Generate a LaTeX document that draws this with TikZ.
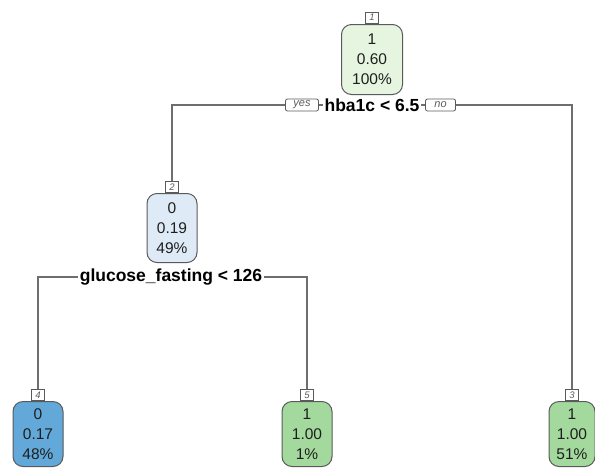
\documentclass[tikz,border=0pt]{standalone}
\usepackage{fontspec}
\setmainfont{Liberation Sans}
\definecolor{rootfill}{HTML}{E5F5E0}
\definecolor{bluelight}{HTML}{DEEBF7}
\definecolor{bluedark}{HTML}{62A8D8}
\definecolor{greenleaf}{HTML}{A3D99D}
\definecolor{edgegray}{HTML}{5A5A5A}
\definecolor{linegray}{HTML}{6E6E6E}
\definecolor{txt}{HTML}{1E1E1E}
\begin{document}
\begin{tikzpicture}[x=1pt,y=-1pt,
  treebox/.style={draw=edgegray,line width=1pt,rounded corners=10pt,
    inner sep=0pt,align=center,text=txt,
    font=\fontsize{15.5}{20}\selectfont},
  numtag/.style={draw=edgegray,line width=0.8pt,fill=white,inner sep=0pt,
    minimum width=13pt,minimum height=11pt,
    font=\fontsize{9.5}{10}\selectfont\itshape,text=edgegray},
  splittext/.style={inner sep=1.5pt,font=\fontsize{17.5}{18}\selectfont\bfseries,text=black},
  yesno/.style={draw=edgegray,line width=0.8pt,rounded corners=2pt,inner sep=0pt,
    minimum width=33pt,minimum height=12pt,
    font=\fontsize{11}{12}\selectfont\itshape,text=edgegray},
  conn/.style={draw=linegray,line width=1.2pt}]
\useasboundingbox (0,0) rectangle (595,467);

% root node
\node[numtag] (t1) at (372,17.5) {1};
\node[treebox,fill=rootfill,minimum width=61pt,minimum height=70pt,anchor=north] (n1) at (372,24) {1\\0.60\\100\%};

% first split
\node[splittext] (s1) at (372,105) {hba1c < 6.5};
\node[yesno,anchor=east] (yes) at ([xshift=-4pt]s1.west) {yes};
\node[yesno,anchor=west,minimum width=30pt] (no) at ([xshift=4pt]s1.east) {no};

% node 2
\node[numtag,anchor=south] (t2) at (172,193) {2};
\node[treebox,fill=bluelight,minimum width=50pt,minimum height=69pt,anchor=north] (n2) at (172,193) {0\\0.19\\49\%};

% second split
\node[splittext] (s2) at (171,277) {glucose\_fasting < 126};

% leaves
\node[numtag,anchor=south] (t4) at (38,401) {4};
\node[treebox,fill=bluedark,minimum width=50pt,minimum height=65pt,anchor=north] (n4) at (38,401) {0\\0.17\\48\%};

\node[numtag,anchor=south] (t5) at (307,401) {5};
\node[treebox,fill=greenleaf,minimum width=50pt,minimum height=65pt,anchor=north] (n5) at (307,401) {1\\1.00\\1\%};

\node[numtag,anchor=south] (t3) at (572,401) {3};
\node[treebox,fill=greenleaf,minimum width=46pt,minimum height=65pt,anchor=north] (n3) at (572,401) {1\\1.00\\51\%};

% connectors
\draw[conn] (yes.west) -- (yes.west -| t2) -- (t2.north);
\draw[conn] (no.east) -- (no.east -| t3) -- (t3.north);
\draw[conn] (yes.east) -- (s1.west);
\draw[conn] (s1.east) -- (no.west);
\draw[conn] (s2.west) -- (s2.west -| t4) -- (t4.north);
\draw[conn] (s2.east) -- (s2.east -| t5) -- (t5.north);
\end{tikzpicture}
\end{document}
